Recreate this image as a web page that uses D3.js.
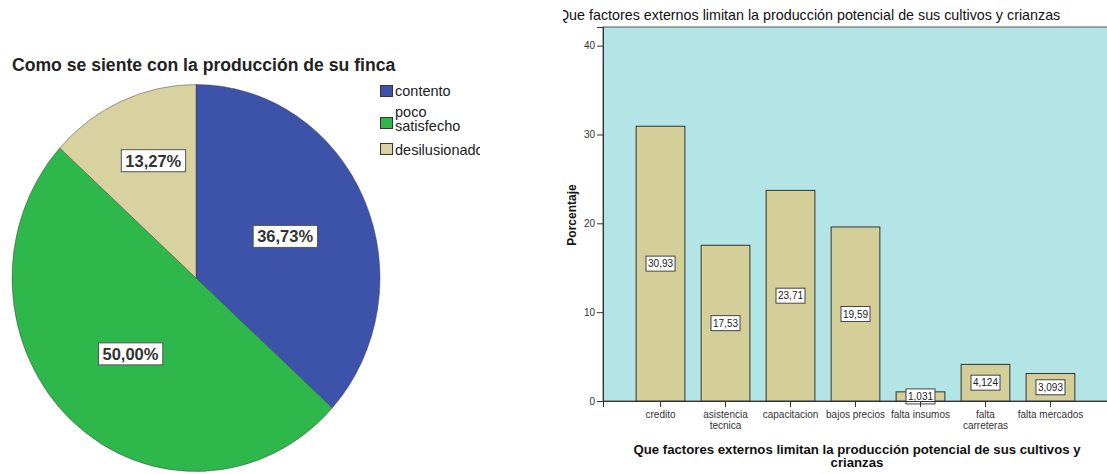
<!DOCTYPE html>
<html>
<head>
<meta charset="utf-8">
<script src="https://cdn.jsdelivr.net/npm/d3@7/dist/d3.min.js"></script>
<style>
  html, body { margin: 0; padding: 0; background: #ffffff; }
  svg { display: block; font-family: "Liberation Sans", Arial, sans-serif; }
</style>
</head>
<body>
<svg id="chart" width="1107" height="474"></svg>
<script>
// ---- Pie: satisfaction with farm production ----
const pieTitle = "Como se siente con la producción de su finca";
const pieCategories = ["contento", "poco satisfecho", "desilusionado"];
const pieLegendLabels = [["contento"], ["poco", "satisfecho"], ["desilusionado"]];
const pieValues = [36.73, 50.00, 13.27];
const pieColors = ["#3d53aa", "#2eb74b", "#d8d1a0"];

// ---- Bars: external factors limiting production ----
const barTitle = "Que factores externos limitan la producción potencial de sus cultivos y crianzas";
const barCategories = ["credito", "asistencia tecnica", "capacitacion", "bajos precios",
                       "falta insumos", "falta carreteras", "falta mercados"];
const barTickLabels = [["credito"], ["asistencia", "tecnica"], ["capacitacion"], ["bajos precios"],
                       ["falta insumos"], ["falta", "carreteras"], ["falta mercados"]];
const barValues = [30.93, 17.53, 23.71, 19.59, 1.031, 4.124, 3.093];
const barValueLabels = ["30,93", "17,53", "23,71", "19,59", "1,031", "4,124", "3,093"];
const yTicks = [0, 10, 20, 30, 40];
const yAxisTitle = "Porcentaje";
const xAxisTitle = ["Que factores externos limitan la producción potencial de sus cultivos y", "crianzas"];

const svg = d3.select("#chart");

// ================= PIE =================
const defs = svg.append("defs");
defs.append("clipPath").attr("id", "pieClip")
  .append("rect").attr("x", 0).attr("y", 0).attr("width", 480).attr("height", 474);
defs.append("clipPath").attr("id", "barClip")
  .append("rect").attr("x", 563).attr("y", 0).attr("width", 544).attr("height", 474);

const pieG = svg.append("g").attr("clip-path", "url(#pieClip)");

pieG.append("text")
  .attr("x", 12).attr("y", 71)
  .attr("font-size", 17.6).attr("font-weight", "bold").attr("fill", "#222")
  .text(pieTitle);

const cx = 196, cy = 278, rx = 184, ry = 193.5;
const pie = d3.pie().sort(null).value(d => d)(pieValues);
const arc = d3.arc().innerRadius(0).outerRadius(rx);

const slices = pieG.append("g")
  .attr("transform", `translate(${cx},${cy}) scale(1,${ry / rx})`);
slices.selectAll("path")
  .data(pie)
  .join("path")
  .attr("d", arc)
  .attr("fill", (d, i) => pieColors[i])
  .attr("stroke", "#3a3a3a")
  .attr("stroke-opacity", 0.55)
  .attr("stroke-width", 0.8);

// value labels: boxed text, placed along each slice's mid-angle
const fmtPct = v => v.toFixed(2).replace(".", ",") + "%";
const labelG = pieG.append("g");
pie.forEach((d, i) => {
  const mid = (d.startAngle + d.endAngle) / 2;
  const k = d.data < 20 ? 0.64 : 0.53;
  const x = cx + Math.sin(mid) * rx * k + (d.data < 20 ? 5 : 0);
  const y = cy - Math.cos(mid) * ry * k - (d.data < 20 ? 4 : 0);
  const g = labelG.append("g").attr("transform", `translate(${x},${y})`);
  const t = g.append("text")
    .attr("text-anchor", "middle").attr("dy", "0.36em")
    .attr("font-size", 16.5).attr("font-weight", "bold").attr("fill", "#333")
    .text(fmtPct(d.data));
  const bb = t.node().getBBox();
  g.insert("rect", "text")
    .attr("x", bb.x - 4).attr("y", bb.y - 2)
    .attr("width", bb.width + 8).attr("height", bb.height + 4)
    .attr("fill", "#ffffff").attr("stroke", "#555").attr("stroke-width", 1);
});

// legend (one text element per line)
const legendY = [85, 117, 143];
const legendBaseline = [96, 117, 155];
const legendLineGap = 14;
const legend = pieG.append("g");
pieCategories.forEach((c, i) => {
  legend.append("rect")
    .attr("x", 380.5).attr("y", legendY[i] + 0.5)
    .attr("width", 12).attr("height", 11)
    .attr("fill", pieColors[i]).attr("stroke", "#333").attr("stroke-width", 1);
  pieLegendLabels[i].forEach((line, j) => {
    legend.append("text")
      .attr("x", 395).attr("y", legendBaseline[i] + j * legendLineGap)
      .attr("font-size", 14.5).attr("fill", "#222")
      .text(line);
  });
});

// ================= BARS =================
const barG = svg.append("g").attr("clip-path", "url(#barClip)");

const plot = { left: 603, right: 1108, top: 27, bottom: 401 };
const x = d3.scaleBand()
  .domain(barCategories)
  .range([plot.left, plot.right])
  .paddingInner(0.25)
  .paddingOuter(0.51);
const y = d3.scaleLinear()
  .domain([0, 42.1])
  .range([plot.bottom, plot.top]);

barG.append("text")
  .attr("x", 558).attr("y", 20)
  .attr("font-size", 14.3).attr("fill", "#111")
  .text(barTitle);

barG.append("rect")
  .attr("x", plot.left).attr("y", plot.top)
  .attr("width", plot.right - plot.left).attr("height", plot.bottom - plot.top)
  .attr("fill", "#b3e5e6").attr("stroke", "#555").attr("stroke-width", 1);

barG.selectAll("rect.bar")
  .data(barValues)
  .join("rect")
  .attr("class", "bar")
  .attr("x", (d, i) => x(barCategories[i]))
  .attr("y", d => y(d))
  .attr("width", x.bandwidth())
  .attr("height", d => y(0) - y(d))
  .attr("fill", "#d4ce99")
  .attr("stroke", "#333")
  .attr("stroke-width", 1);

// value boxes centred at half the bar height
barValues.forEach((v, i) => {
  const g = barG.append("g")
    .attr("transform", `translate(${x(barCategories[i]) + x.bandwidth() / 2},${y(v / 2)})`);
  const t = g.append("text")
    .attr("text-anchor", "middle").attr("dy", "0.36em")
    .attr("font-size", 10).attr("fill", "#222")
    .text(barValueLabels[i]);
  const bb = t.node().getBBox();
  g.insert("rect", "text")
    .attr("x", Math.round(bb.x - 2) + 0.5).attr("y", -7.5)
    .attr("width", Math.round(bb.width + 4)).attr("height", 15)
    .attr("fill", "#ffffff").attr("stroke", "#444").attr("stroke-width", 1);
});

// y axis
const yAxis = barG.append("g")
  .attr("transform", `translate(${plot.left},0)`)
  .call(d3.axisLeft(y).tickValues(yTicks).tickSize(6).tickPadding(2).tickFormat(d3.format("d")));
yAxis.select(".domain").attr("stroke", "#333");
yAxis.selectAll(".tick line").attr("stroke", "#333");
yAxis.selectAll(".tick text").attr("font-size", 10).attr("fill", "#333")
  .attr("font-family", "Liberation Sans, Arial, sans-serif");

// x axis
const xAxis = barG.append("g")
  .attr("transform", `translate(0,${plot.bottom})`)
  .call(d3.axisBottom(x).tickSize(6).tickPadding(3).tickFormat(""));
xAxis.select(".domain").attr("stroke", "#333");
xAxis.selectAll(".tick line").attr("stroke", "#333");
xAxis.selectAll(".tick text").remove();
barCategories.forEach((c, i) => {
  barTickLabels[i].forEach((line, j) => {
    barG.append("text")
      .attr("x", x(c) + x.bandwidth() / 2).attr("y", 418 + j * 11)
      .attr("text-anchor", "middle")
      .attr("font-size", 10).attr("fill", "#333")
      .text(line);
  });
});

// axis titles
barG.append("text")
  .attr("transform", "translate(576,215) rotate(-90)")
  .attr("text-anchor", "middle")
  .attr("font-size", 12).attr("font-weight", "bold").attr("fill", "#111")
  .text(yAxisTitle);

xAxisTitle.forEach((line, j) => {
  barG.append("text")
    .attr("x", 857).attr("y", 454 + j * 13)
    .attr("text-anchor", "middle")
    .attr("font-size", 13.2).attr("font-weight", "bold").attr("fill", "#111")
    .text(line);
});
</script>
</body>
</html>
